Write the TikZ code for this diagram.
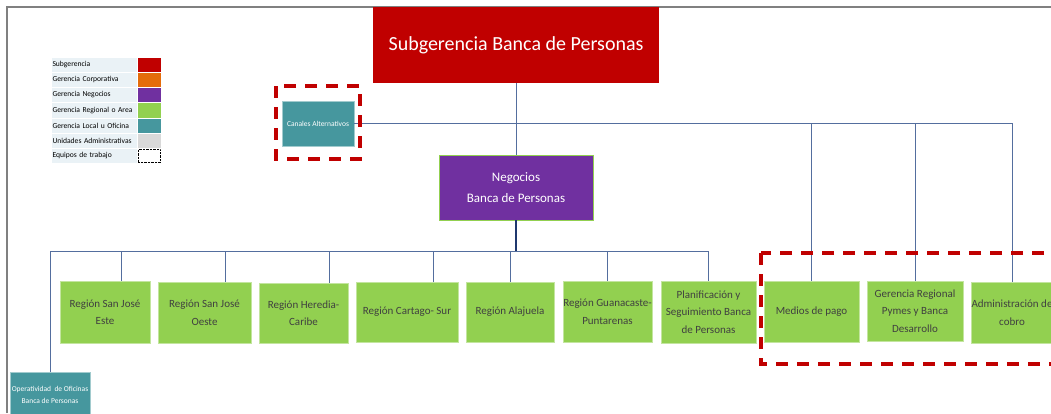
\documentclass[tikz,border=0pt]{standalone}
\usepackage{fontspec}
\setmainfont{Carlito}
\usepackage{xcolor}
\usepackage{tikz}
\usetikzlibrary{positioning, calc}

\definecolor{subred}{RGB}{192,0,0}
\definecolor{corporange}{RGB}{228,108,10}
\definecolor{negpurple}{RGB}{112,48,160}
\definecolor{reggreen}{RGB}{146,208,80}
\definecolor{localteal}{RGB}{70,151,158}
\definecolor{admgray}{RGB}{217,217,217}
\definecolor{legbg}{RGB}{234,242,246}
\definecolor{linkblue}{RGB}{84,110,158}
\definecolor{trunkblue}{RGB}{31,56,110}
\definecolor{boxtext}{RGB}{64,64,64}
\definecolor{framegray}{RGB}{128,128,128}

\begin{document}
\begin{tikzpicture}[x=1pt, y=-1pt,
  unit/.style={inner sep=0pt, align=center},
  greenbox/.style={unit, fill=reggreen, draw=reggreen!55!white, line width=0.8, text=boxtext, font=\fontsize{11}{17.5}\selectfont},
  tealbox/.style={unit, fill=localteal, draw=localteal!50!white, line width=0.8, text=white, font=\fontsize{7.5}{12}\selectfont},
  link/.style={draw=linkblue, line width=1},
  redframe/.style={draw=subred, line width=3.5, dash pattern=on 12 off 9},
  legtext/.style={inner xsep=1.5, inner ysep=0, minimum height=15.2, text width=83, align=left, fill=legbg, draw=white, outer sep=0, font=\fontsize{7.6}{8}\selectfont},
  legcolor/.style={minimum width=24, minimum height=15.2, inner sep=0, draw=white, outer sep=0}
]
\useasboundingbox (0,0) rectangle (1051,413);
\clip (0,0) rectangle (1051,413);

\draw[framegray, line width=2] (6.5,413) -- (6.5,6.5) -- (1051,6.5);

\node[legtext] (l1) at (94,64.6) {Subgerencia};
\node[legtext, below=0pt of l1] (l2) {Gerencia Corporativa};
\node[legtext, below=0pt of l2] (l3) {Gerencia Negocios};
\node[legtext, below=0pt of l3] (l4) {Gerencia Regional o Area};
\node[legtext, below=0pt of l4] (l5) {Gerencia Local u Oficina};
\node[legtext, below=0pt of l5] (l6) {Unidades Administrativas};
\node[legtext, below=0pt of l6] (l7) {Equipos de trabajo};
\node[legcolor, fill=subred, right=0pt of l1] (c1) {};
\node[legcolor, fill=corporange, right=0pt of l2] (c2) {};
\node[legcolor, fill=negpurple, right=0pt of l3] (c3) {};
\node[legcolor, fill=reggreen, right=0pt of l4] (c4) {};
\node[legcolor, fill=localteal, right=0pt of l5] (c5) {};
\node[legcolor, fill=admgray, right=0pt of l6] (c6) {};
\node[legcolor, minimum width=22, minimum height=13, draw=black, densely dotted, fill=white, right=1pt of l7] (c7) {};

\node[unit, fill=subred, text=white, minimum width=286, minimum height=76, font=\fontsize{20}{24}\selectfont] (sub) at (516,45) {Subgerencia Banca de Personas};
\node[tealbox, minimum width=72, minimum height=45] (canales) at (318,123.5) {Canales Alternativos};
\node[unit, fill=negpurple, draw=reggreen, line width=0.8, text=white, minimum width=154, minimum height=65, font=\fontsize{13}{20.5}\selectfont] (neg) at (516,187.5) {Negocios\\Banca de Personas};

\node[greenbox, minimum width=90, minimum height=62] (r1) at (105,312) {Región San José\\Este};
\node[greenbox, minimum width=93, minimum height=61] (r2) at (204.5,312.5) {Región San José\\Oeste};
\node[greenbox, minimum width=89, minimum height=60] (r3) at (303.5,313) {Región Heredia-\\Caribe};
\node[greenbox, minimum width=102, minimum height=60] (r4) at (407,312) {Región Cartago- Sur};
\node[greenbox, minimum width=88, minimum height=60] (r5) at (510,312) {Región Alajuela};
\node[greenbox, minimum width=89, minimum height=61] (r6) at (607.5,311.5) {Región Guanacaste-\\Puntarenas};
\node[greenbox, minimum width=95, minimum height=62] (r7) at (708.5,312) {Planificación y\\Seguimiento Banca\\de Personas};
\node[greenbox, minimum width=95, minimum height=61] (m1) at (811.5,311.5) {Medios de pago};
\node[greenbox, minimum width=96, minimum height=60] (m2) at (915,311) {Gerencia Regional\\Pymes y Banca\\Desarrollo};
\node[greenbox, minimum width=82, minimum height=61] (m3) at (1012,312.5) {Administración de\\cobro};
\node[tealbox, minimum width=80, minimum height=46] (oper) at (50,395) {Operatividad\ \ de Oficinas\\Banca de Personas};

\draw[link] (sub) -- (neg);
\draw[link] (canales.east) -| (m3.north);
\draw[link] (m1.north |- canales.east) -- (m1.north);
\draw[link] (m2.north |- canales.east) -- (m2.north);

\coordinate (bus) at (516,251);
\draw[link] (bus) -| (oper.north);
\draw[link] (bus) -| (r7.north);
\draw[link] ([xshift=16]r1.north) -- ([xshift=16]r1.north |- bus);
\draw[link] ([xshift=20.5]r2.north) -- ([xshift=20.5]r2.north |- bus);
\draw[link] ([xshift=25.5]r3.north) -- ([xshift=25.5]r3.north |- bus);
\draw[link] ([xshift=26]r4.north) -- ([xshift=26]r4.north |- bus);
\draw[link] (r5.north |- bus) -- (r5.north);
\draw[link] (r6.north |- bus) -- (r6.north);
\draw[trunkblue, line width=1.4] (neg.south) -- (bus);

\draw[redframe] (276,86) rectangle (360,159);
\draw[redframe] (761,253) rectangle (1075,364);
\end{tikzpicture}
\end{document}
